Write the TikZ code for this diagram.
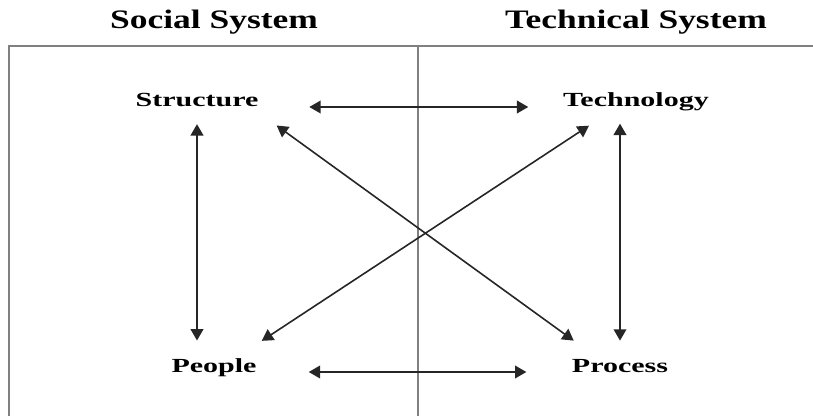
\documentclass[tikz,border=0pt]{standalone}
\usepackage{fontspec}
\setmainfont{Liberation Serif}
\newfontfamily\lblfont[FakeStretch=1.5]{Liberation Serif}
\newfontfamily\ttlfont[FakeStretch=1.33]{Liberation Serif}
\usetikzlibrary{arrows.meta}

\tikzset{
	lbl/.style={font=\lblfont\bfseries\fontsize{15}{15}\selectfont, inner sep=0pt, anchor=base},
	ttl/.style={font=\ttlfont\bfseries\fontsize{20}{20}\selectfont, inner sep=0pt, anchor=base},
	link/.style={{Triangle[length=8.5pt,width=9.5pt]}-{Triangle[length=8.5pt,width=9.5pt]}, line width=1.2pt, draw=black!85},
	frame/.style={line width=1.8pt, draw=black!50}
}

\begin{document}
\begin{tikzpicture}[x=0.75pt, y=-0.75pt]
\useasboundingbox (0,0) rectangle (813,416);

% Titulos
\node[ttl] (social) at (214,29) {Social System};
\node[ttl] (technical) at (636,29) {Technical System};

% Marco
\draw[frame] (9,416) |- (813,46);
\draw[frame] (418,46) -- (418,416);

% Elementos
\node[lbl] (struct) at (197,107) {Structure};
\node[lbl] (tech) at (636,107) {Technology};
\node[lbl] (people) at (214,372) {People};
\node[lbl] (process) at (620,372) {Process};

% Relaciones
\draw[link, shorten <=38pt, shorten >=26pt] (struct.base east) -- (tech.base west);
\draw[link, shorten <=39pt, shorten >=34pt] (people.base east) -- (process.base west);
\draw[link, shorten <=12.5pt, shorten >=13pt] (struct.south) -- (struct.south |- people.north);
\draw[link, shorten <=13.5pt, shorten >=9pt] (process.north) -- (process.north |- tech.south);
\draw[link] ([shift={(18,18)}]struct.south east) -- ([shift={(2,-18)}]process.north west);
\draw[link] ([shift={(5,-17)}]people.north east) -- ([shift={(26,14)}]tech.south west);
\end{tikzpicture}
\end{document}
